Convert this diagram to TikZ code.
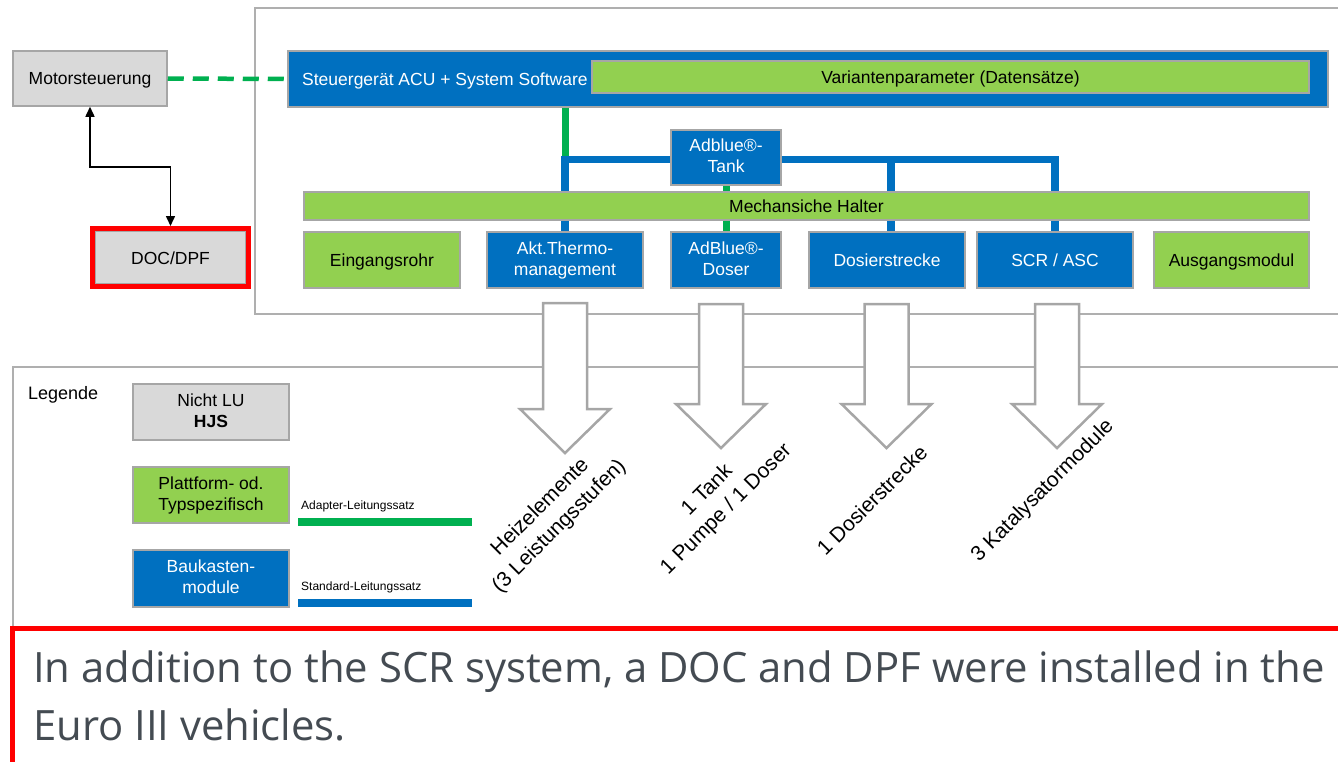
\documentclass[tikz,border=0pt]{standalone}
\usepackage{fontspec}
\setmainfont{Liberation Sans}
\newfontfamily\captionfont{Open Sans}
\usetikzlibrary{arrows.meta,calc,fit}
\pgfdeclarelayer{background}
\pgfsetlayers{background,main}
\definecolor{hjsblue}{RGB}{0,112,192}
\definecolor{hjsgreen}{RGB}{146,208,80}
\definecolor{wiregreen}{RGB}{0,176,80}
\definecolor{boxgray}{RGB}{217,217,217}
\definecolor{edgegray}{RGB}{166,166,166}
\definecolor{framegray}{RGB}{175,175,175}
\definecolor{captiongray}{RGB}{68,75,82}
% fixed line box so that every module text sits at the same height
\newcommand\modstrut{\rule[-3.5pt]{0pt}{20pt}}
\begin{document}
\begin{tikzpicture}[x=1pt,y=-1pt,
  wh/.style 2 args={minimum width=#1pt, minimum height=#2pt},
  module/.style={draw=edgegray, line width=1.5pt, inner sep=0pt, align=center,
                 font=\fontsize{17.5}{21}\selectfont,
                 execute at begin node=\modstrut, execute at end node=\modstrut},
  graybox/.style={module, fill=boxgray, text=black},
  bluebox/.style={module, fill=hjsblue, text=white},
  greenbox/.style={module, fill=hjsgreen, text=black},
  stdwire/.style={draw=hjsblue, line width=7.5pt},
  adapterwire/.style={draw=wiregreen, line width=7pt},
  canwire/.style={draw=wiregreen, line width=4.5pt, dash pattern=on 16pt off 9pt},
  panel/.style={draw=framegray, line width=1.5pt},
  rotlabel/.style={rotate=45, align=center, inner sep=0pt,
                   font=\fontsize{21}{27}\selectfont},
  plaintext/.style={anchor=base west, inner sep=0pt, font=\fontsize{17.5}{21}\selectfont},
  smalltext/.style={anchor=base west, inner sep=0pt, font=\fontsize{12}{14}\selectfont},
  captiontext/.style={anchor=base west, inner sep=0pt, text=captiongray,
                      font=\captionfont\fontsize{41.8}{58}\selectfont},
  twoway/.style={line width=1.5pt,
                 {Triangle[width=9pt,length=10pt]}-{Triangle[width=9pt,length=10pt]}},
  bigarrow/.pic={
    \draw[draw=edgegray, line width=2.5pt, fill=white, line join=miter]
      (-22,0) -- (-22,#1) -- (-45,#1) -- (0,{#1+44}) -- (45,#1) -- (22,#1)
      -- (22,0) -- cycle;
  }
]
\useasboundingbox (0,0) rectangle (1338,761);
\clip (0,0) rectangle (1338,761);

% --- frames around the system and the legend
\begin{pgfonlayer}{background}
  \draw[panel] (255,8) rectangle (1345,314);
  \draw[panel] (13,367) rectangle (1345,700);
\end{pgfonlayer}

% --- vehicle side
\node[graybox, wh={154}{55}] (mot) at (90,78.5) {Motorsteuerung};
\node[graybox, wh={151}{53}] (doc) at (170.5,257.5) {DOC/DPF};
\node[draw=red, line width=5pt, fit=(doc), inner sep=1.75pt] (docframe) {};
\draw[twoway] (mot.south) -- ++(0,60) -| (docframe.north);

% --- control unit
\node[bluebox, wh={1040}{56}] (acu) at (808,79) {};
\node[plaintext, text=white] (acutext) at (302,85.5) {Steuergerät ACU + System Software};
\node[greenbox, wh={717}{32}] (var) at (950.5,77) {Variantenparameter (Datensätze)};
\draw[canwire] (mot.east) -- (acu.west);

% --- tank, holder bar and modules
\node[bluebox, wh={110}{55}] (tank) at (726,157.5) {Adblue®-\\Tank};
\node[greenbox, wh={1005}{28}] (halter) at (806.5,206) {Mechansiche Halter};
\node[greenbox, wh={156}{56}] (ein) at (382,260) {Eingangsrohr};
\node[bluebox, wh={156}{56}] (akt) at (565,260) {Akt.Thermo-\\management};
\node[bluebox, wh={110}{56}] (dos) at (726,260) {AdBlue®-\\Doser};
\node[bluebox, wh={156}{56}] (dst) at (887,260) {Dosierstrecke};
\node[bluebox, wh={156}{56}] (scr) at (1055,260) {SCR / ASC};
\node[greenbox, wh={155}{56}] (aus) at (1231.5,260) {Ausgangsmodul};

% --- wiring harness (behind the holder bar)
\begin{pgfonlayer}{background}
  \coordinate (j1) at (565,159.5);
  \coordinate (j2) at (891,159.5);
  \coordinate (j3) at (scr.north |- j1);
  \draw[adapterwire] (acu.south -| j1) -- (j1);
  \draw[stdwire] (tank.west |- j1) -- (j1) -- (j1 |- akt.north);
  \draw[stdwire] (tank.east |- j1) -- (j3) -- (scr.north);
  \draw[stdwire] (j2) -- (j2 |- dst.north);
  \draw[adapterwire] (tank.south) -- (dos.north);
\end{pgfonlayer}

% --- variant arrows and their labels
\pic (ar1) at (565,303) {bigarrow=106};
\pic (ar2) at (721,304) {bigarrow=100};
\pic (ar3) at (886.5,304) {bigarrow=100};
\pic (ar4) at (1057,304) {bigarrow=100};
\node[rotlabel] (lab1) at (550,517) {Heizelemente\\(3 Leistungsstufen)};
\node[rotlabel] (lab2) at (717,500) {1 Tank\\1 Pumpe / 1 Doser};
\node[rotlabel] (lab3) at (872,500) {1 Dosierstrecke};
\node[rotlabel] (lab4) at (1043,491) {3 Katalysatormodule};

% --- legend
\node[plaintext, font=\fontsize{18}{21}\selectfont] (leg) at (28,399) {Legende};
\node[graybox, wh={156}{56}] (nlu) at (211,412) {Nicht LU\\\textbf{HJS}};
\node[greenbox, wh={156}{56}] (plt) at (211,495) {Plattform- od.\\Typspezifisch};
\node[bluebox, wh={156}{57}] (bau) at (211,578.5) {Baukasten-\\module};
\node[smalltext] (adtxt) at (301,509) {Adapter-Leitungssatz};
\node[smalltext] (sttxt) at (301,590) {Standard-Leitungssatz};
\coordinate (ad1) at (298,522);
\coordinate (ad2) at (472,522);
\coordinate (st1) at (298,603);
\coordinate (st2) at (472,603);
\draw[adapterwire, line width=8pt] (ad1) -- (ad2);
\draw[stdwire, line width=8pt] (st1) -- (st2);

% --- caption
\draw[draw=red, line width=5pt, fill=white] (12.5,628) rectangle (1360,800);
\node[captiontext] (cap1) at (33,682) {In addition to the SCR system, a DOC and DPF were installed in the};
\node[captiontext] (cap2) at (33,740) {Euro III vehicles.};
\end{tikzpicture}
\end{document}
